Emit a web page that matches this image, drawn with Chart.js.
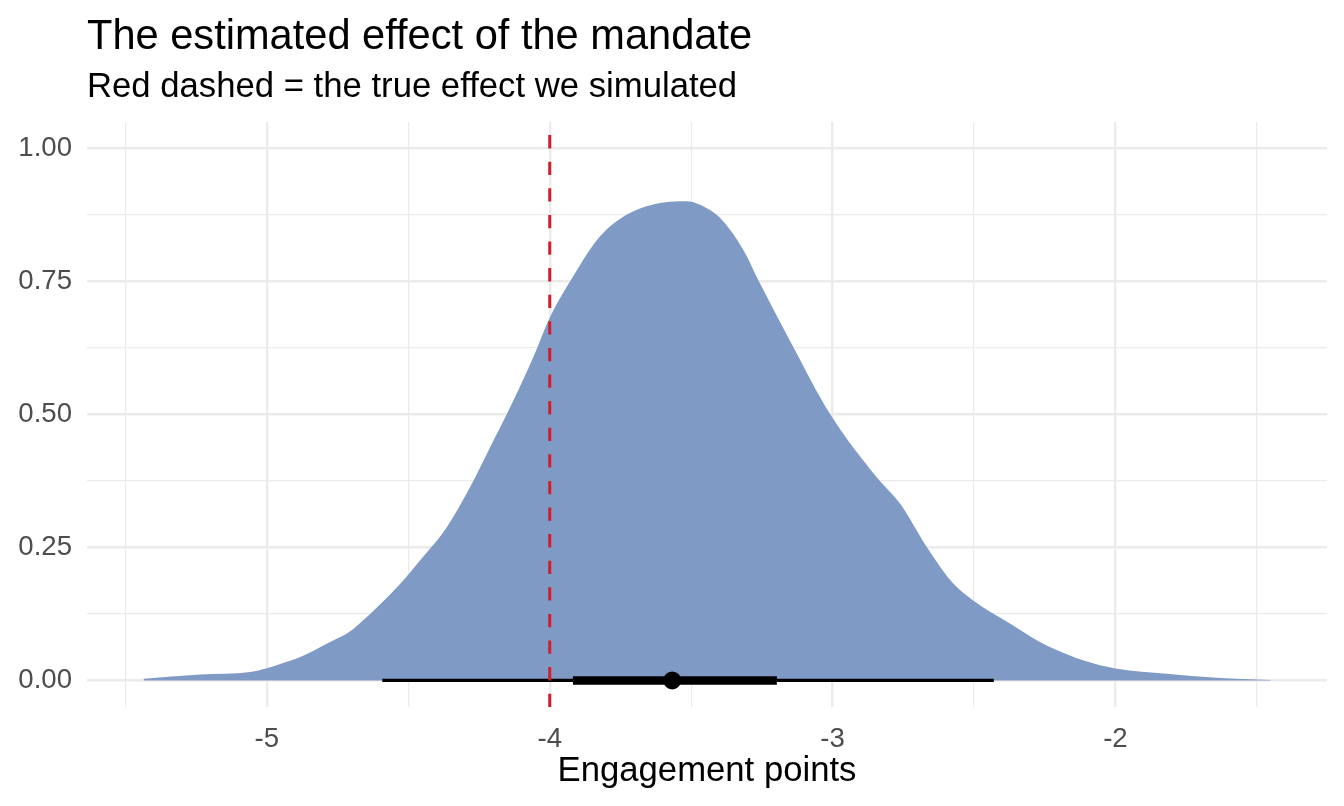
<!DOCTYPE html>
<html>
<head>
<meta charset="utf-8">
<title>The estimated effect of the mandate</title>
<script src="https://cdn.jsdelivr.net/npm/chart.js@4/dist/chart.umd.min.js"></script>
<style>
  html, body { margin: 0; padding: 0; background: #fff; }
  #wrap { width: 1344px; height: 806px; position: relative; }
</style>
</head>
<body>
<div id="wrap"><canvas id="chart"></canvas></div>
<script>
// Posterior density of the effect
const densityX = [-5.436, -5.236, -5.059, -5.000, -4.953, -4.882, -4.835, -4.766, -4.717, -4.635,
  -4.540, -4.458, -4.364, -4.281, -4.199, -4.128, -4.058, -3.999, -3.917, -3.822,
  -3.727, -3.635, -3.515, -3.445, -3.398, -3.316, -3.256, -3.139, -3.010, -2.844,
  -2.761, -2.667, -2.573, -2.502, -2.373, -2.267, -2.220, -2.115, -1.995, -1.819,
  -1.642, -1.451];
const densityY = [0.003, 0.011, 0.016, 0.023, 0.031, 0.044, 0.056, 0.075, 0.088, 0.125,
  0.175, 0.226, 0.288, 0.364, 0.451, 0.527, 0.608, 0.683, 0.760, 0.835,
  0.876, 0.895, 0.901, 0.888, 0.870, 0.810, 0.746, 0.627, 0.502, 0.382,
  0.332, 0.251, 0.182, 0.150, 0.107, 0.072, 0.060, 0.038, 0.022, 0.0126,
  0.005, 0.001];

// Point estimate and intervals
const pointEstimate = -3.567;
const intervalWide = [-4.592, -2.430];
const intervalNarrow = [-3.918, -3.197];
const trueEffect = -4;

// Axes
const xRange = [-5.636, -1.252];
const yRange = [-0.05, 1.05];
const xMajorTicks = [-5, -4, -3, -2];
const xTickLabels = ["-5", "-4", "-3", "-2"];
const xMinorTicks = [-5.5, -4.5, -3.5, -2.5, -1.5];
const yMajorTicks = [0, 0.25, 0.5, 0.75, 1];
const yTickLabels = ["0.00", "0.25", "0.50", "0.75", "1.00"];
const yMinorTicks = [0.125, 0.375, 0.625, 0.875];

const titleText = "The estimated effect of the mandate";
const subtitleText = "Red dashed = the true effect we simulated";
const xTitleText = "Engagement points";

const FONT = "'Liberation Sans', Arial, Helvetica, sans-serif";
const GRID = "#EBEBEB";

function tickSet(major, minor) {
  return major.concat(minor).sort((a, b) => a - b).map(v => ({ value: v }));
}

function labelFor(major, labels) {
  return (v) => {
    const i = major.findIndex(m => Math.abs(m - v) < 1e-9);
    return i >= 0 ? labels[i] : "";
  };
}

function isMajor(major, v) {
  return major.some(m => Math.abs(m - v) < 1e-9);
}

// title + subtitle, left-aligned on the panel like ggplot
const headings = {
  id: "headings",
  afterDraw(chart) {
    const ctx = chart.ctx;
    const left = chart.chartArea.left;
    ctx.save();
    ctx.fillStyle = "#000";
    ctx.textAlign = "left";
    ctx.textBaseline = "alphabetic";
    ctx.font = "41.6px " + FONT;
    ctx.fillText(titleText, left, 49);
    ctx.font = "34.7px " + FONT;
    ctx.fillText(subtitleText, left, 97);
    ctx.restore();
  }
};

const densityData = densityX.map((x, i) => ({ x: x, y: densityY[i] }));

new Chart(document.getElementById("chart"), {
  type: "line",
  data: {
    datasets: [
      {
        label: "true effect",
        data: [{ x: trueEffect, y: yRange[0] }, { x: trueEffect, y: yRange[1] }],
        borderColor: "#CF1F2E",
        borderWidth: 3,
        borderDash: [13.3, 13.3],
        pointRadius: 0,
        fill: false,
        order: 0
      },
      {
        label: "estimate",
        data: [{ x: pointEstimate, y: 0 }],
        showLine: false,
        pointRadius: 9,
        pointBackgroundColor: "#000",
        pointBorderWidth: 0,
        order: 1
      },
      {
        label: "66%",
        data: [{ x: intervalNarrow[0], y: 0 }, { x: intervalNarrow[1], y: 0 }],
        borderColor: "#000",
        borderWidth: 8.5,
        pointRadius: 0,
        fill: false,
        order: 2
      },
      {
        label: "95%",
        data: [{ x: intervalWide[0], y: 0 }, { x: intervalWide[1], y: 0 }],
        borderColor: "#000",
        borderWidth: 3.2,
        pointRadius: 0,
        fill: false,
        order: 3
      },
      {
        label: "density",
        data: densityData,
        borderWidth: 0,
        borderColor: "rgba(0,0,0,0)",
        backgroundColor: "#7F9BC5",
        fill: "origin",
        pointRadius: 0,
        cubicInterpolationMode: "monotone",
        order: 4
      }
    ]
  },
  options: {
    responsive: true,
    maintainAspectRatio: false,
    animation: false,
    layout: { padding: { top: 122, right: 17, bottom: 0, left: 0 } },
    plugins: {
      legend: { display: false },
      tooltip: { enabled: false },
      title: { display: false }
    },
    scales: {
      x: {
        type: "linear",
        min: xRange[0],
        max: xRange[1],
        afterBuildTicks: (s) => { s.ticks = tickSet(xMajorTicks, xMinorTicks); },
        afterFit: (s) => { s.height = 99; },
        border: { display: false },
        grid: {
          color: GRID,
          drawTicks: false,
          lineWidth: (c) => isMajor(xMajorTicks, c.tick.value) ? 2.4 : 1.2
        },
        ticks: {
          autoSkip: false,
          maxRotation: 0,
          padding: 16,
          color: "#4D4D4D",
          font: { family: FONT, size: 27.6 },
          callback: labelFor(xMajorTicks, xTickLabels)
        },
        title: {
          display: true,
          text: xTitleText,
          color: "#000",
          font: { family: FONT, size: 34.7 },
          padding: { top: 0, bottom: 14 }
        }
      },
      y: {
        type: "linear",
        min: yRange[0],
        max: yRange[1],
        afterBuildTicks: (s) => { s.ticks = tickSet(yMajorTicks, yMinorTicks); },
        afterFit: (s) => { s.width = 87; },
        border: { display: false },
        grid: {
          color: GRID,
          drawTicks: false,
          lineWidth: (c) => isMajor(yMajorTicks, c.tick.value) ? 2.4 : 1.2
        },
        ticks: {
          autoSkip: false,
          padding: 15,
          color: "#4D4D4D",
          font: { family: FONT, size: 27.6 },
          callback: labelFor(yMajorTicks, yTickLabels)
        }
      }
    }
  },
  plugins: [headings]
});
</script>
</body>
</html>
